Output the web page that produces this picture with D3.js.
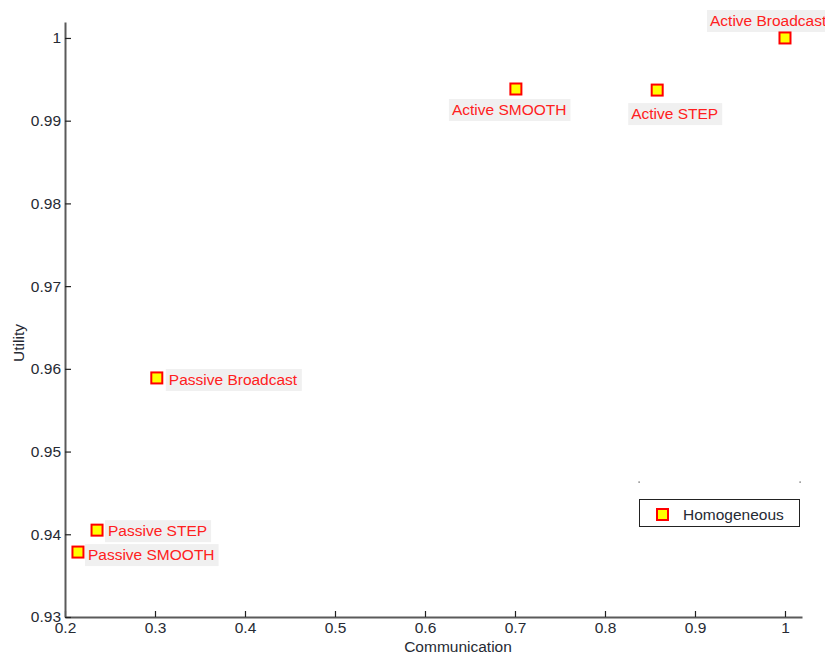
<!DOCTYPE html>
<html>
<head>
<meta charset="utf-8">
<script src="https://cdn.jsdelivr.net/npm/d3@7"></script>
<style>
  html, body { margin: 0; padding: 0; background: #fff; }
  svg { display: block; font-family: "Liberation Sans", Arial, sans-serif; }
</style>
</head>
<body>
<svg id="chart" width="825" height="655"></svg>
<script>
// Strategy names, communication cost (x) and utility (y)
const strategies = ["Active Broadcast", "Active SMOOTH", "Active STEP",
                    "Passive Broadcast", "Passive STEP", "Passive SMOOTH"];
const communication = [1.0, 0.701, 0.858, 0.302, 0.2356, 0.2144];
const utility = [1.0, 0.99383, 0.9937, 0.9589, 0.9405, 0.93785];

const xTicks = [0.2, 0.3, 0.4, 0.5, 0.6, 0.7, 0.8, 0.9, 1];
const yTicks = [0.93, 0.94, 0.95, 0.96, 0.97, 0.98, 0.99, 1];
const xTickLabels = ["0.2", "0.3", "0.4", "0.5", "0.6", "0.7", "0.8", "0.9", "1"];
const yTickLabels = ["0.93", "0.94", "0.95", "0.96", "0.97", "0.98", "0.99", "1"];

const seriesName = "Homogeneous";
const xTitle = "Communication";
const yTitle = "Utility";

// Text offsets (px) of each annotation from its marker
const labelOffsets = [[-75, -12], [-64, 26], [-26, 29], [12, 7], [11, 6], [10, 8]];

const svg = d3.select("#chart");
const plotLeft = 65, plotRight = 802, plotTop = 22, plotBottom = 617;
const fontSize = "15.5px";

const x = d3.scaleLinear().domain([0.2, 1.0189]).range([plotLeft, plotRight]);
const y = d3.scaleLinear().domain([0.93, 1.00193]).range([plotBottom, plotTop]);

const textColor = "#262a33";
const axisColor = "#5a5a5a";

// X axis
const xAxis = svg.append("g").attr("transform", `translate(0,${plotBottom})`)
  .call(d3.axisBottom(x).tickValues(xTicks)
    .tickFormat((d, i) => xTickLabels[i]).tickSizeInner(-6).tickSizeOuter(0).tickPadding(8));
// Y axis
const yAxis = svg.append("g").attr("transform", `translate(${plotLeft},0)`)
  .call(d3.axisLeft(y).tickValues(yTicks)
    .tickFormat((d, i) => yTickLabels[i]).tickSizeInner(-6).tickSizeOuter(0).tickPadding(4));

[xAxis, yAxis].forEach(g => {
  g.select(".domain").attr("stroke", axisColor).attr("stroke-width", 2);
  g.selectAll(".tick line").attr("stroke", "#222").attr("stroke-width", 1.2);
  g.selectAll(".tick text").attr("fill", textColor)
    .style("font-size", fontSize).style("font-family", "'Liberation Sans', Arial, sans-serif");
});
xAxis.selectAll(".tick text").attr("dy", "0.5em");

// Axis titles
svg.append("text").attr("x", 458).attr("y", 652)
  .attr("text-anchor", "middle").attr("fill", textColor)
  .style("font-size", fontSize).text(xTitle);
svg.append("text").attr("transform", `translate(24,343) rotate(-90)`)
  .attr("text-anchor", "middle").attr("fill", textColor)
  .style("font-size", fontSize).text(yTitle);

// Annotation labels with light backgrounds
const labels = svg.append("g");
strategies.forEach((name, i) => {
  const px = x(communication[i]), py = y(utility[i]);
  const g = labels.append("g");
  const t = g.append("text")
    .attr("x", px + labelOffsets[i][0]).attr("y", py + labelOffsets[i][1])
    .attr("fill", "#ff2020").style("font-size", fontSize).text(name);
  const bb = t.node().getBBox();
  g.insert("rect", "text")
    .attr("x", bb.x - 3).attr("y", bb.y - 2)
    .attr("width", bb.width + 7).attr("height", bb.height + 5)
    .attr("fill", "#f0f0f0");
});

// Square markers
svg.append("g").selectAll("rect").data(strategies).join("rect")
  .attr("x", (d, i) => x(communication[i]) - 5.5)
  .attr("y", (d, i) => y(utility[i]) - 5.5)
  .attr("width", 11).attr("height", 11)
  .attr("fill", "#ffff00").attr("stroke", "#ff0000").attr("stroke-width", 2);

// Legend
const legend = svg.append("g");
legend.append("rect").attr("x", 639.5).attr("y", 499.5).attr("width", 160).attr("height", 27)
  .attr("fill", "#fff").attr("stroke", "#222").attr("stroke-width", 1);
legend.append("rect").attr("x", 657).attr("y", 509).attr("width", 11).attr("height", 11)
  .attr("fill", "#ffff00").attr("stroke", "#ff0000").attr("stroke-width", 2);
legend.append("text").attr("x", 683).attr("y", 520).attr("fill", textColor)
  .style("font-size", fontSize).text(seriesName);
legend.append("rect").attr("x", 638.5).attr("y", 481.5).attr("width", 1.2).attr("height", 1.2).attr("fill", "#444");
legend.append("rect").attr("x", 799.5).attr("y", 481.5).attr("width", 1.2).attr("height", 1.2).attr("fill", "#444");
</script>
</body>
</html>
